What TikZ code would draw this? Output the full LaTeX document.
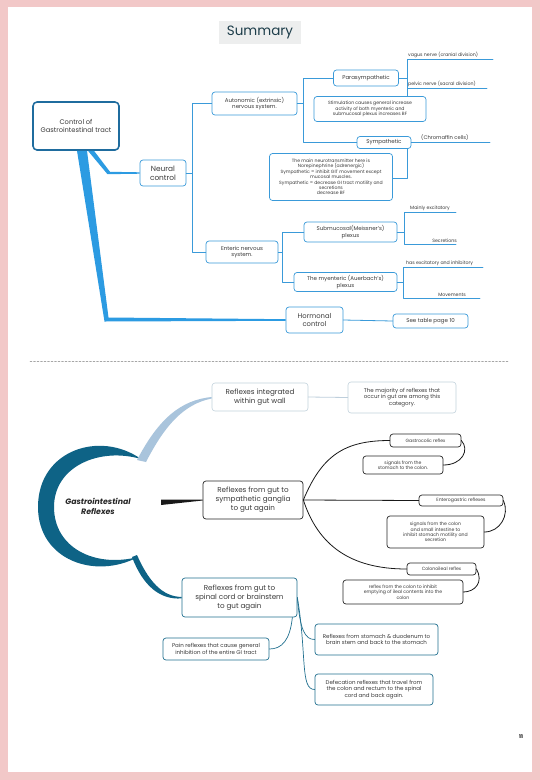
\documentclass[tikz,border=0pt]{standalone}
\usepackage{fontspec}
\setmainfont{Poppins}
\usepackage{tikz}
\usetikzlibrary{calc}
\definecolor{pagepink}{HTML}{F2C8C8}
\definecolor{mapblue}{HTML}{3A9AD9}
\definecolor{rootblue}{HTML}{1F6C9E}
\definecolor{trunkblue}{HTML}{2C9BE2}
\definecolor{titlegray}{HTML}{EDEEEE}
\definecolor{titleink}{HTML}{1D3D4A}
\definecolor{ink}{HTML}{3A3A3A}
\definecolor{crescent}{HTML}{0E6386}
\definecolor{paleblue}{HTML}{A9C4DC}
\definecolor{palegray}{HTML}{C3D2DC}
\definecolor{spinteal}{HTML}{21708F}
\tikzset{
    every picture/.style={line cap=round,line join=round},
    mapbox/.style={draw=mapblue,fill=white,line width=0.7pt,rounded corners=3pt,
      inner sep=1.5pt,text=ink,align=center},
    rootbox/.style={mapbox,draw=rootblue,line width=1.6pt,rounded corners=4pt},
    leaflabel/.style={text=ink,inner sep=1pt,font=\fontsize{4.7}{5.5}\selectfont},
    maplink/.style={draw=mapblue,line width=0.8pt},
    palebox/.style={mapbox,draw=palegray,line width=0.6pt},
    gangliabox/.style={mapbox,draw=black!85,line width=0.7pt},
    spinalbox/.style={mapbox,draw=spinteal,line width=0.7pt},
    blacklink/.style={draw=black!90,line width=0.8pt},
    spinallink/.style={draw=spinteal,line width=0.7pt},
    sepline/.style={draw=black!35,line width=0.4pt,dash pattern=on 2pt off 1.5pt},
    tiny/.style={font=\fontsize{4.6}{5.4}\selectfont},
    small/.style={font=\fontsize{5.5}{6.7}\selectfont},
    big/.style={font=\fontsize{7.2}{9}\selectfont}
}
\begin{document}
\begin{tikzpicture}[x=1pt,y=-1pt]
  \useasboundingbox (0,0) rectangle (540,780);
  \fill[pagepink] (0,0) rectangle (540,780);
  \fill[white] (8,7) rectangle (532,772);

  \node[fill=titlegray,minimum width=82,minimum height=23,text=titleink,
    font=\fontsize{13.5}{15}\selectfont] (title) at (260,32.5) {Summary};

  \node[rootbox,minimum width=86,minimum height=48,font=\fontsize{6.7}{8.8}\selectfont] (ctrl) at (76,126) {Control of\\Gastrointestinal tract};
  \node[mapbox,font=\fontsize{7.4}{9.2}\selectfont,minimum width=46,minimum height=26] (neural) at (163,173) {Neural\\control};
  \node[mapbox,small,minimum width=85,minimum height=23] (auto) at (254.5,103.5) {Autonomic (extrinsic)\\nervous system.};
  \node[mapbox,small,minimum width=65,minimum height=16] (para) at (366,78) {Parasympathetic};
  \node[mapbox,tiny,minimum width=112,minimum height=25] (stim) at (370,109) {Stimulation causes general increase\\activity of both myenteric and\\submucosal plexus increases BF};
  \node[mapbox,small,minimum width=54,minimum height=12] (symp) at (384,142.5) {Sympathetic};
  \node[mapbox,tiny,minimum width=123,minimum height=47] (nt) at (331,177) {The main neurotransmitter here is\\Norepinephrine (adrenergic)\\Sympathetic = inhibit GIT movement except\\mucosal muscles.\\Sympathetic = decrease GI tract motility and\\secretions\\decrease BF};
  \node[mapbox,small,minimum width=72,minimum height=22] (ent) at (242,252) {Enteric nervous\\system.};
  \node[mapbox,small,minimum width=93,minimum height=20] (submu) at (350.5,232) {Submucosal(Meissner's)\\plexus};
  \node[mapbox,small,minimum width=103,minimum height=19] (myen) at (345.5,282) {The myenteric (Auerbach's)\\plexus};
  \node[mapbox,font=\fontsize{6.8}{8.4}\selectfont,minimum width=57,minimum height=26] (horm) at (314.5,320) {Hormonal\\control};
  \node[mapbox,small,minimum width=75,minimum height=14] (seepage) at (430.5,321) {See table page 10};

  \node[leaflabel,anchor=south west] (vagus) at (407,59) {vagus nerve (cranial division)};
  \node[leaflabel,anchor=south west] (pelvic) at (407,88) {pelvic nerve (sacral division)};
  \node[leaflabel,anchor=south west,font=\fontsize{5.2}{6}\selectfont] (chrom) at (420,141.5) {(Chromaffin cells)};
  \node[leaflabel,anchor=south west] (mainex) at (409,212) {Mainly excitatory};
  \node[leaflabel,anchor=south east] (secr) at (458,244) {Secretions};
  \node[leaflabel,anchor=south west] (exinh) at (405,267) {has excitatory and inhibitory};
  \node[leaflabel,anchor=south east] (moves) at (467,298) {Movements};
  \coordinate (vagusend) at (493,59);
  \coordinate (pelvicend) at (487,88);
  \coordinate (chromend) at (490,142.5);
  \coordinate (mainexa) at (404,212);
  \coordinate (mainexb) at (456,212);
  \coordinate (secra) at (404,244);
  \coordinate (secrb) at (456,244);
  \coordinate (exinha) at (403,267);
  \coordinate (exinhb) at (483,267);
  \coordinate (movesa) at (403,298);
  \coordinate (movesb) at (480,298);
  \coordinate (neurfork) at (192,0);
  \coordinate (autofork) at (303,0);
  \coordinate (entfork) at (282,0);
  \coordinate (sympdrop) at (407,178);

  \fill[trunkblue] ($(ctrl.south)+(1,0)$) -- ($(ctrl.south)+(11,0)$) -- (108.5,317.5)
    -- ($(horm.west)+(0,-0.8)$) -- ($(horm.west)+(0,0.8)$) -- (104.5,321.5) -- cycle;
  \fill[trunkblue] ($(ctrl.south)+(12,0)$) -- ($(ctrl.south)+(18,0)$) -- (110,171.8)
    -- ($(neural.west)+(0,-0.7)$) -- ($(neural.west)+(0,0.7)$) -- (107.5,174.2) -- cycle;

  \draw[maplink] (neural.east) -- (neural.east -| neurfork);
  \draw[maplink] (auto.west) -- (auto.west -| neurfork) -- (ent.west -| neurfork) -- (ent.west);
  \draw[maplink] (auto.east) -- (auto.east -| autofork);
  \draw[maplink] (para.west) -- (para.west -| autofork) -- (symp.west -| autofork) -- (symp.west);
  \draw[maplink] (para.east) -- (para.east -| vagus.south west);
  \draw[maplink] (vagusend) -- (vagus.south west) -- (pelvic.south west) -- (pelvicend);
  \draw[maplink] (pelvic.south west) -- (stim.north -| pelvic.south west);
  \draw[maplink] (symp.east) -- (chromend);
  \draw[maplink] (symp.south -| sympdrop) -- (sympdrop) -- (nt.east |- sympdrop);
  \draw[maplink] (ent.east) -- (ent.east -| entfork);
  \draw[maplink] (submu.west) -- (submu.west -| entfork) -- (myen.west -| entfork) -- (myen.west);
  \draw[maplink] (submu.east) -- (submu.east -| mainexa);
  \draw[maplink] (mainexb) -- (mainexa) -- (secra) -- (secrb);
  \draw[maplink] (myen.east) -- (myen.east -| exinha);
  \draw[maplink] (exinhb) -- (exinha) -- (movesa) -- (movesb);
  \draw[maplink] (horm.east) -- (seepage.west);

  \draw[sepline] (30,361) -- (508,361);

  \fill[crescent] (141,459) .. controls (100,430) and (38,450) .. (38,507)
    .. controls (38,560) and (95,580) .. (138,557)
    .. controls (95,568) and (54,548) .. (54,507)
    .. controls (54,466) and (100,447) .. (141,459) -- cycle;
  \node[font=\fontsize{7.8}{9.8}\selectfont\bfseries\itshape,text=black!85,align=center] (gitext) at (98,506) {Gastrointestinal\\Reflexes};

  \node[palebox,big,minimum width=96,minimum height=28] (integ) at (260,397) {Reflexes integrated\\within gut wall};
  \node[palebox,small,minimum width=108,minimum height=31] (major) at (402,397.5) {The majority of reflexes that\\occur in gut are among this\\category.};
  \node[gangliabox,big,minimum width=100,minimum height=38] (symp2) at (253,500) {Reflexes from gut to\\sympathetic ganglia\\to gut again};
  \node[gangliabox,tiny,minimum width=71,minimum height=13] (gcol) at (425.5,440.5) {Gastrocolic reflex};
  \node[gangliabox,tiny,minimum width=80,minimum height=18] (gsig) at (403,465) {signals from the\\stomach to the colon.};
  \node[gangliabox,tiny,minimum width=84,minimum height=11] (entero) at (461,500.5) {Enterogastric reflexes};
  \node[gangliabox,tiny,minimum width=97,minimum height=32] (esig) at (435.5,532) {signals from the colon\\and small intestine to\\inhibit stomach motility and\\secretion};
  \node[gangliabox,tiny,minimum width=69,minimum height=12] (colono) at (441.5,569) {Colonoileal reflex};
  \node[gangliabox,tiny,minimum width=120,minimum height=24] (csig) at (403,592) {reflex from the colon to inhibit\\emptying of ileal contents into the\\colon};
  \node[spinalbox,big,minimum width=115,minimum height=39] (spinal) at (239.5,597.5) {Reflexes from gut to\\spinal cord or brainstem\\to gut again};
  \node[spinalbox,small,minimum width=106,minimum height=22] (pain) at (216,649) {Pain reflexes that cause general\\inhibition of the entire GI tract};
  \node[spinalbox,small,minimum width=123,minimum height=31] (stom) at (376.5,639.5) {Reflexes from stomach \& duodenum to\\brain stem and back to the stomach};
  \node[spinalbox,small,minimum width=118,minimum height=31] (defec) at (374,689.5) {Defecation reflexes that travel from\\the colon and rectum to the spinal\\cord and back again.};

  \fill[paleblue] (137,460) .. controls (158,420) and (180,400) .. (integ.west)
    -- ($(integ.west)+(0,1.5)$) .. controls (184,404) and (165,425) .. (146,462) -- cycle;
  \draw[draw=palegray!80!paleblue,line width=0.8pt] (integ.east) -- (major.west);
  \fill[black!90] (161,499.5) -- ($(symp2.west)+(0,-0.5)$) -- ($(symp2.west)+(0,0.5)$) -- (161,505) -- cycle;
  \fill[crescent] (137,555) .. controls (148,580) and (162,597) .. ($(spinal.west)+(0,-0.6)$)
    -- ($(spinal.west)+(0,0.9)$) .. controls (160,600) and (143,586) .. (132,557) -- cycle;

  \draw[blacklink] (symp2.east) .. controls (322,455) and (345,440.5) .. (gcol.west);
  \draw[blacklink] (symp2.east) -- (entero.west);
  \draw[blacklink] (symp2.east) .. controls (318,545) and (350,569) .. (colono.west);
  \draw[blacklink] (gcol.east) .. controls (470,450) and (462,465) .. (gsig.east);
  \draw[blacklink] (entero.east) .. controls (510,515) and (500,532) .. (esig.east);
  \draw[blacklink] (colono.east) .. controls (484,582) and (475,592) .. (csig.east);

  \draw[spinallink] ($(spinal.south east)+(-5,0)$) .. controls (290,640) and (282,649) .. (pain.east);
  \draw[spinallink] (spinal.east) .. controls (300,630) and (305,639.5) .. (stom.west);
  \draw[spinallink] (spinal.east) .. controls (307,655) and (300,689.5) .. (defec.west);

  \node[font=\fontsize{5}{6}\selectfont\bfseries] (pagenum) at (521,737) {11};
\end{tikzpicture}
\end{document}
